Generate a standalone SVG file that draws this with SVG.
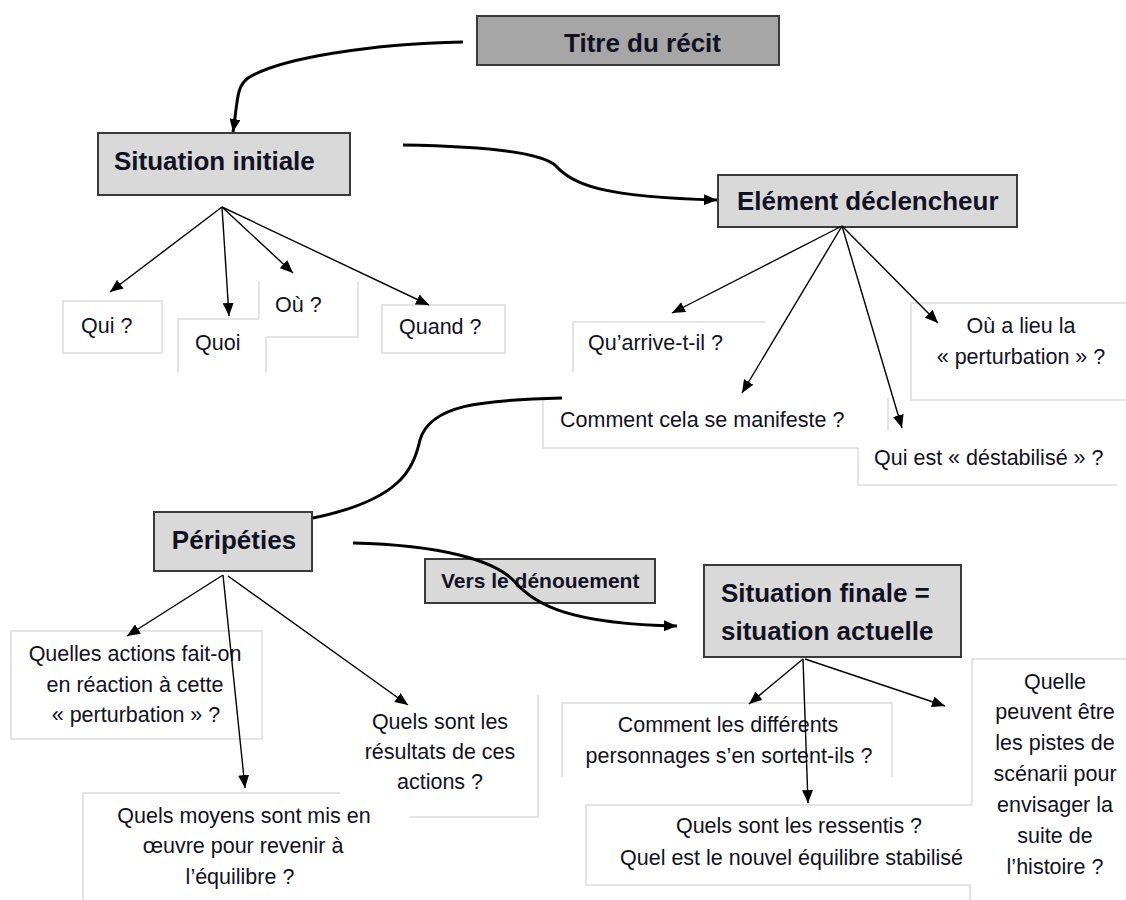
<svg xmlns="http://www.w3.org/2000/svg" width="1126" height="900" viewBox="0 0 1126 900">
<defs>
<marker id="ah" markerUnits="userSpaceOnUse" markerWidth="13" markerHeight="11" refX="13" refY="5.5" orient="auto"><path d="M0,0 L13,5.5 L0,11 z" fill="#000"/></marker>
<style>
.bg{fill:#fff}
.gbox{fill:#d9d9d9;stroke:#3a3a3a;stroke-width:2}
.tbox{fill:#a6a6a6;stroke:#3a3a3a;stroke-width:2}
.lb{fill:none;stroke:#dcdcdc;stroke-width:1.5}
.h{font-family:"Liberation Sans",Arial,sans-serif;font-weight:bold;font-size:26px;fill:#111122}
.hs{font-family:"Liberation Sans",Arial,sans-serif;font-weight:bold;font-size:21px;fill:#111122}
.t{font-family:"Liberation Sans",Arial,sans-serif;font-size:21.5px;fill:#111122}
.c{text-anchor:middle}
.thin{fill:none;stroke:#000;stroke-width:1.4;marker-end:url(#ah)}
.thick{fill:none;stroke:#000;stroke-width:3}
.thicka{fill:none;stroke:#000;stroke-width:3;marker-end:url(#ah)}
</style>
</defs>
<rect class="bg" x="0" y="0" width="1126" height="900"/>

<g id="titre"><rect class="tbox" x="477" y="16" width="302" height="49"/><text class="h" x="564" y="52">Titre du récit</text></g>
<g id="situation-initiale"><rect class="gbox" x="98" y="133" width="252" height="62"/><text class="h" x="114" y="170">Situation initiale</text></g>
<g id="element-declencheur"><rect class="gbox" x="718" y="175" width="299" height="52"/><text class="h" x="737" y="210">Elément déclencheur</text></g>
<g id="peripeties"><rect class="gbox" x="154" y="512" width="158" height="59"/><text class="h c" x="234" y="549">Péripéties</text></g>
<g id="vers-denouement"><rect class="gbox" x="425" y="559" width="230" height="44"/><text class="hs" x="441" y="588">Vers le dénouement</text></g>
<g id="situation-finale"><rect class="gbox" x="704" y="565" width="257" height="92"/><text class="h" x="721" y="602">Situation finale =</text><text class="h" x="721" y="640">situation actuelle</text></g>

<g id="qui"><rect class="lb" x="63" y="301" width="99" height="52"/><text class="t" x="81" y="333">Qui ?</text></g>
<g id="quoi"><path class="lb" d="M178,372 V319 H259 M266,337 V372"/><text class="t" x="195" y="350">Quoi</text></g>
<g id="ou"><path class="lb" d="M259,319 V281 M358,281 V337 H266"/><text class="t" x="275" y="312">Où ?</text></g>
<g id="quand"><rect class="lb" x="382" y="305" width="123" height="48"/><text class="t" x="399" y="334">Quand ?</text></g>

<g id="qu-arrive"><path class="lb" d="M573,372 V322 H765"/><text class="t" x="588" y="350">Qu’arrive-t-il ?</text></g>
<g id="comment-cela"><path class="lb" d="M543,398 V448 H858"/><text class="t" x="560" y="427">Comment cela se manifeste ?</text></g>
<g id="qui-est"><path class="lb" d="M888,398 V430 M858,448 V485 H1117"/><text class="t" x="874" y="465">Qui est « déstabilisé » ?</text></g>
<g id="ou-lieu"><path class="lb" d="M1126,303 H911 V400 H1126"/><text class="t c" x="1021" y="333">Où a lieu la</text><text class="t c" x="1021" y="364">« perturbation » ?</text></g>

<g id="quelles-actions"><rect class="lb" x="11" y="631" width="251" height="108"/><text class="t c" x="135" y="661">Quelles actions fait-on</text><text class="t c" x="135" y="692">en réaction à cette</text><text class="t c" x="136" y="722">« perturbation » ?</text></g>
<g id="quels-resultats"><path class="lb" d="M538,695 V817 H410"/><text class="t c" x="440" y="729">Quels sont les</text><text class="t c" x="440" y="759">résultats de ces</text><text class="t c" x="440" y="789">actions ?</text></g>
<g id="quels-moyens"><path class="lb" d="M83,900 V793 H340"/><text class="t c" x="244" y="823">Quels moyens sont mis en</text><text class="t c" x="243" y="853">œuvre pour revenir à</text><text class="t c" x="240" y="884">l’équilibre ?</text></g>

<g id="comment-les"><path class="lb" d="M562,777 V703 H892 V777"/><text class="t c" x="728" y="732">Comment les différents</text><text class="t c" x="729" y="763">personnages s’en sortent-ils ?</text></g>
<g id="ressentis"><path class="lb" d="M972,805 H586 V885 H970"/><text class="t c" x="799" y="833">Quels sont les ressentis ?</text><text class="t" x="620" y="865">Quel est le nouvel équilibre stabilisé</text></g>
<g id="quelle-pistes"><path class="lb" d="M1126,659 H972 V805 M970,885 V900"/><text class="t c" x="1055" y="689">Quelle</text><text class="t c" x="1055" y="719">peuvent être</text><text class="t c" x="1055" y="750">les pistes de</text><text class="t c" x="1055" y="781">scénarii pour</text><text class="t c" x="1055" y="812">envisager la</text><text class="t c" x="1055" y="843">suite de</text><text class="t c" x="1055" y="874">l’histoire ?</text></g>

<g id="connectors">
<path class="thicka" d="M463,42 C370,44 280,58 248,78 C236,87 238,100 233,132"/>
<path class="thicka" d="M403,145 C470,146 540,150 556,166 C572,184 600,197 717,200"/>
<path class="thick" d="M562,398 C480,400 430,405 420,440 C413,470 400,500 313,518"/>
<path class="thicka" d="M353,543 C440,545 495,560 515,582 C535,605 570,624 677,626"/>
<line class="thin" x1="222" y1="207" x2="110" y2="292"/>
<line class="thin" x1="222" y1="207" x2="229" y2="316"/>
<line class="thin" x1="222" y1="207" x2="293" y2="273"/>
<line class="thin" x1="222" y1="207" x2="429" y2="305"/>
<line class="thin" x1="842" y1="226" x2="672" y2="313"/>
<line class="thin" x1="842" y1="226" x2="742" y2="393"/>
<line class="thin" x1="842" y1="226" x2="902" y2="428"/>
<line class="thin" x1="842" y1="226" x2="938" y2="323"/>
<line class="thin" x1="223" y1="575" x2="127" y2="636"/>
<line class="thin" x1="223" y1="575" x2="245" y2="788"/>
<line class="thin" x1="228" y1="576" x2="408" y2="705"/>
<line class="thin" x1="803" y1="659" x2="749" y2="704"/>
<line class="thin" x1="803" y1="659" x2="808" y2="803"/>
<line class="thin" x1="805" y1="659" x2="945" y2="706"/>
</g>
</svg>
